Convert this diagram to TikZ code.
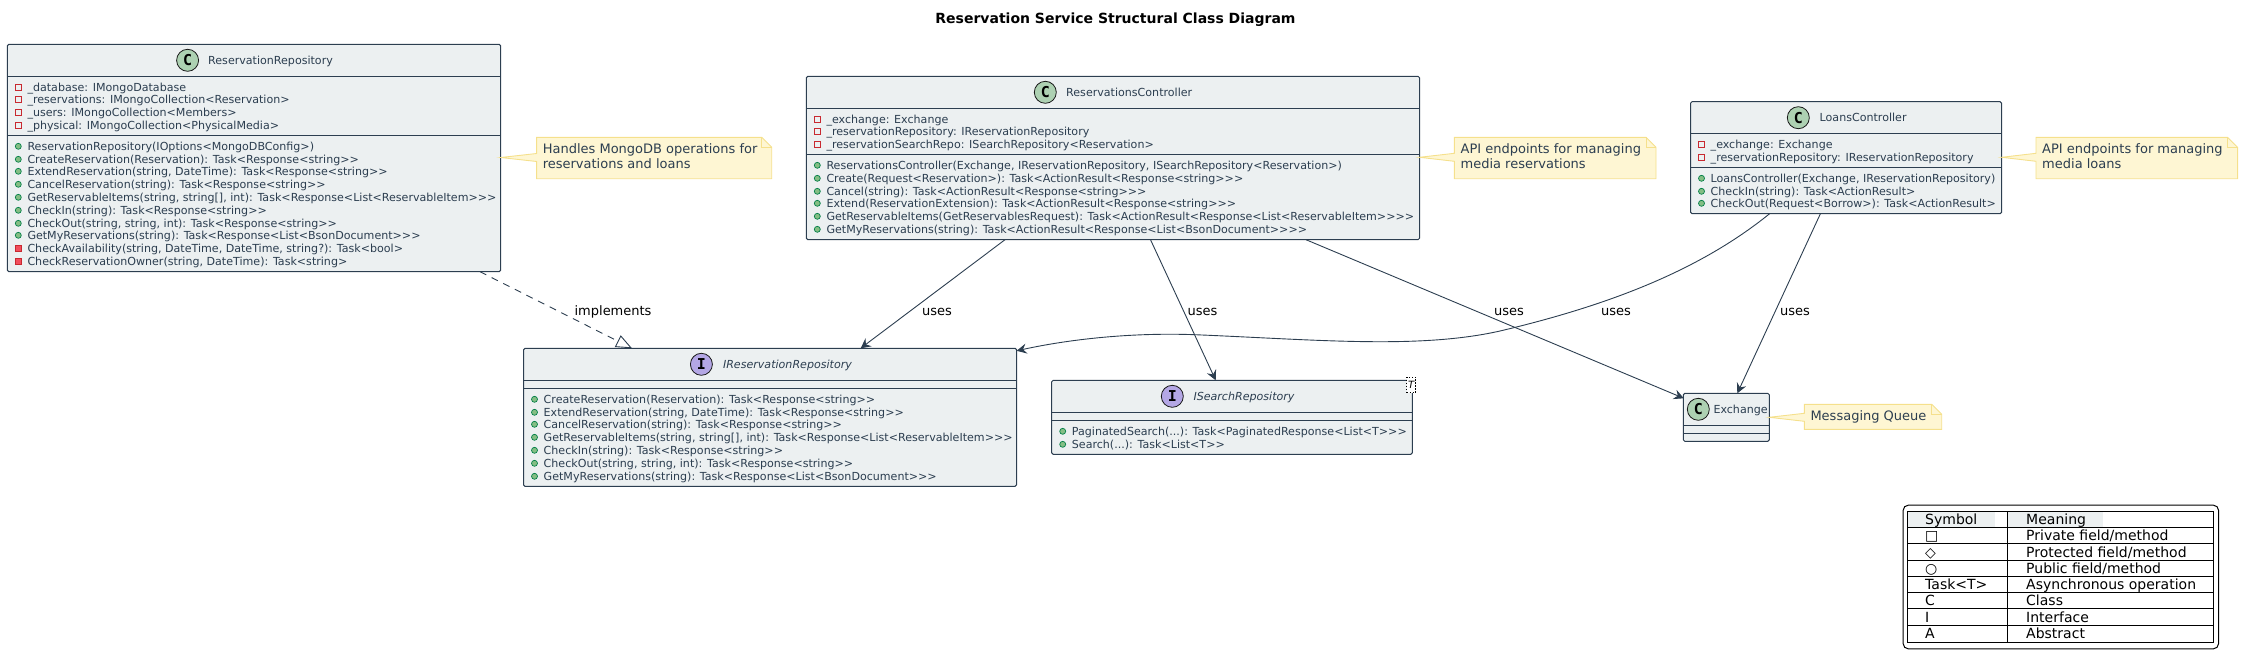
\documentclass[tikz,border=0pt]{standalone}
\usepackage{fontspec}
\setmainfont{DejaVu Sans}[Ligatures=TeXOff]
\newfontfamily\markfont{DejaVu Sans Mono}
\usetikzlibrary{arrows.meta}
\definecolor{inkcol}{HTML}{2C3E50}
\definecolor{boxcol}{HTML}{ECF0F1}
\definecolor{notecol}{HTML}{FEF6D3}
\definecolor{noteline}{HTML}{F5E08C}
\definecolor{classcol}{HTML}{ADD1B2}
\definecolor{ifacecol}{HTML}{B4A7E5}
\definecolor{privline}{HTML}{C82930}
\definecolor{privfill}{HTML}{F24D5C}
\definecolor{publine}{HTML}{038048}
\definecolor{pubfill}{HTML}{84BE84}
\tikzset{
  classbox/.style={draw=inkcol, fill=boxcol, line width=1pt, rounded corners=1.5pt, anchor=north west, inner sep=0pt, outer sep=0pt},
  classline/.style={draw=inkcol, line width=1pt},
  headmark/.style={circle, draw=black!90, line width=0.8pt, minimum size=22pt, inner sep=0pt, font=\markfont\bfseries\fontsize{15}{15}\selectfont},
  headtext/.style={anchor=base west, inner sep=0pt, text=inkcol, font=\fontsize{11.08}{12}\selectfont},
  membertext/.style={headtext},
  fieldmark/.style={rectangle, draw=privline, line width=0.9pt, minimum size=5.5pt, inner sep=0pt},
  privmark/.style={rectangle, draw=privline, fill=privfill, line width=0.6pt, minimum size=6pt, inner sep=0pt},
  publicmark/.style={circle, draw=publine, fill=pubfill, line width=0.7pt, minimum size=6pt, inner sep=0pt},
  notepath/.style={draw=noteline, fill=notecol, line width=0.9pt},
  notetext/.style={anchor=north west, inner sep=0pt, align=left, text=inkcol, font=\fontsize{13}{15}\selectfont},
  usesedge/.style={draw=inkcol, line width=0.9pt, -{Stealth[length=10pt,width=10pt,inset=3.5pt]}},
  edgetext/.style={anchor=base west, inner sep=0pt, font=\fontsize{13}{15}\selectfont},
  legendtext/.style={anchor=base west, inner sep=0pt, font=\fontsize{14}{15}\selectfont},
}
\newcommand{\elide}{...}
% prefix, left edge of the class, mark style, rows
\newcommand{\memberrows}[4]{
  \foreach \rowy/\rowtext [count=\rowi] in {#4} {
    \node[#3] (#1m\rowi) at (#2+11,\rowy) {};
    \node[membertext] (#1t\rowi) at (#2+20,\rowy+4) {\rowtext};
  }
}
% name, x1, y1, x2, y2, tip x, tip y, text
\newcommand{\notebox}[8]{
  \draw[notepath] (#2,#3) -- (#4-10,#3) -- (#4,#3+10) -- (#4,#5) -- (#2,#5)
    -- (#2,#7+4) -- (#6,#7) -- (#2,#7-4) -- cycle;
  \draw[notepath, fill=none] (#4-10,#3) -- (#4-10,#3+10) -- (#4,#3+10);
  \node[notetext] (#1) at (#2+6,#3+6) {#8};
}
\begin{document}
\begin{tikzpicture}[x=1pt,y=-1pt]
  \useasboundingbox (0,0) rectangle (2243,667);
  \node[anchor=base, inner sep=0pt, font=\bfseries\fontsize{14}{15}\selectfont] (title) at (1115.5,23) {Reservation Service Structural Class Diagram};

  % classes
  \node[classbox, minimum width=493.4pt, minimum height=227.4pt] (repo) at (7.3,44.3) {};
  \foreach \d in {32,91} \draw[classline] ([yshift=-\d]repo.north west) -- ([yshift=-\d]repo.north east);
  \node[headmark, fill=classcol] (repomark) at (187.6,60.3) {C};
  \node[headtext] (reponame) at (208,64.3) {ReservationRepository};
  \memberrows{repof}{7.3}{fieldmark}{87.3/\_database: IMongoDatabase, 99.3/\_reservations: IMongoCollection<Reservation>, 112.3/\_users: IMongoCollection<Members>, 125.3/\_physical: IMongoCollection<PhysicalMedia>}
  \memberrows{repop}{7.3}{publicmark}{146.3/ReservationRepository(IOptions<MongoDBConfig>), 159.3/CreateReservation(Reservation): Task<Response<string>>, 171.3/{ExtendReservation(string, DateTime): Task<Response<string>>}, 184.3/CancelReservation(string): Task<Response<string>>, 197.3/{GetReservableItems(string, string[], int): Task<Response<List<ReservableItem>>>}, 210.3/CheckIn(string): Task<Response<string>>, 223.3/{CheckOut(string, string, int): Task<Response<string>>}, 235.3/GetMyReservations(string): Task<Response<List<BsonDocument>>>}
  \memberrows{repox}{7.3}{privmark}{248.3/{CheckAvailability(string, DateTime, DateTime, string?): Task<bool>}, 261.3/{CheckReservationOwner(string, DateTime): Task<string>}}

  \node[classbox, minimum width=613.2pt, minimum height=163.4pt] (ctrl) at (806.3,76.3) {};
  \foreach \d in {32,78} \draw[classline] ([yshift=-\d]ctrl.north west) -- ([yshift=-\d]ctrl.north east);
  \node[headmark, fill=classcol] (ctrlmark) at (1045.3,92.3) {C};
  \node[headtext] (ctrlname) at (1066,96.3) {ReservationsController};
  \memberrows{ctrlf}{806.3}{fieldmark}{119.3/\_exchange: Exchange, 131.3/\_reservationRepository: IReservationRepository, 144.3/\_reservationSearchRepo: ISearchRepository<Reservation>}
  \memberrows{ctrlp}{806.3}{publicmark}{165.3/{ReservationsController(Exchange, IReservationRepository, ISearchRepository<Reservation>)}, 178.3/Create(Request<Reservation>): Task<ActionResult<Response<string>>>, 191.3/Cancel(string): Task<ActionResult<Response<string>>>, 203.3/Extend(ReservationExtension): Task<ActionResult<Response<string>>>, 216.3/GetReservableItems(GetReservablesRequest): Task<ActionResult<Response<List<ReservableItem>>>>, 229.3/GetMyReservations(string): Task<ActionResult<Response<List<BsonDocument>>>>}

  \node[classbox, minimum width=311.1pt, minimum height=112pt] (loans) at (1690.5,101.7) {};
  \foreach \d in {31.6,66} \draw[classline] ([yshift=-\d]loans.north west) -- ([yshift=-\d]loans.north east);
  \node[headmark, fill=classcol] (loansmark) at (1798.3,117.7) {C};
  \node[headtext] (loansname) at (1819.5,121.7) {LoansController};
  \memberrows{loansf}{1690.5}{fieldmark}{144.3/\_exchange: Exchange, 157.3/\_reservationRepository: IReservationRepository}
  \memberrows{loansp}{1690.5}{publicmark}{178.3/{LoansController(Exchange, IReservationRepository)}, 191.3/CheckIn(string): Task<ActionResult>, 203.3/CheckOut(Request<Borrow>): Task<ActionResult>}

  \node[classbox, minimum width=493.1pt, minimum height=138pt] (iface) at (523.5,348.3) {};
  \foreach \d in {32.4,40} \draw[classline] ([yshift=-\d]iface.north west) -- ([yshift=-\d]iface.north east);
  \node[headmark, fill=ifacecol] (ifacemark) at (701.4,364.3) {I};
  \node[headtext, font=\itshape\fontsize{11.08}{12}\selectfont] (ifacename) at (722.8,368.3) {IReservationRepository};
  \memberrows{ifacep}{523.5}{publicmark}{399.3/CreateReservation(Reservation): Task<Response<string>>, 412.3/{ExtendReservation(string, DateTime): Task<Response<string>>}, 424.3/CancelReservation(string): Task<Response<string>>, 437.3/{GetReservableItems(string, string[], int): Task<Response<List<ReservableItem>>>}, 450.3/CheckIn(string): Task<Response<string>>, 463.3/{CheckOut(string, string, int): Task<Response<string>>}, 476.3/GetMyReservations(string): Task<Response<List<BsonDocument>>>}

  \node[classbox, minimum width=360.6pt, minimum height=74pt] (search) at (1051.7,380.3) {};
  \foreach \d in {32,40} \draw[classline] ([yshift=-\d]search.north west) -- ([yshift=-\d]search.north east);
  \node[headmark, fill=ifacecol] (searchmark) at (1172.3,396.3) {I};
  \node[headtext, font=\itshape\fontsize{11.08}{12}\selectfont] (searchname) at (1193.3,400.3) {ISearchRepository};
  \memberrows{searchp}{1051.7}{publicmark}{431.3/PaginatedSearch(\elide): Task<PaginatedResponse<List<T>>>, 444.3/Search(\elide): Task<List<T>>}
  \node[draw=black, dashed, dash pattern=on 1.5pt off 1.5pt, fill=white, line width=0.7pt, inner sep=0pt, minimum width=9pt, minimum height=15.4pt, font=\itshape\fontsize{10}{12}\selectfont] (searchtag) at (1411.2,385) {T};

  \node[classbox, minimum width=86pt, minimum height=48pt] (exch) at (1683.3,393.3) {};
  \foreach \d in {32,40} \draw[classline] ([yshift=-\d]exch.north west) -- ([yshift=-\d]exch.north east);
  \node[headmark, fill=classcol] (exchmark) at (1698.3,409.3) {C};
  \node[headtext] (exchname) at (1713.3,413.3) {Exchange};

  % notes
  \notebox{repon}{536.6}{137.3}{771.7}{178.7}{500.7}{157.5}{Handles MongoDB operations for\\reservations and loans}
  \notebox{ctrln}{1454.4}{137.3}{1656}{178.7}{1419.5}{157.3}{API endpoints for managing\\media reservations}
  \notebox{loansn}{2036}{137.3}{2237.6}{178.7}{2001.6}{157.3}{API endpoints for managing\\media loans}
  \notebox{exchn}{1804.3}{404.3}{1941.7}{429.3}{1769.3}{417.3}{Messaging Queue}

  % relations
  \draw[draw=inkcol, line width=0.9pt, dash pattern=on 7pt off 6pt, -{Triangle[open, fill=white, length=16pt, width=13pt]}] ([xshift=472.7]repo.south west) -- ([xshift=108.5]iface.north west);
  \draw[usesedge] ([xshift=198.7]ctrl.south west) -- ([xshift=337.1]iface.north west);
  \draw[usesedge] ([xshift=344.2]ctrl.south west) -- ([xshift=164]search.north west);
  \draw[usesedge] ([xshift=499.7]ctrl.south west) -- ([xshift=0.5,yshift=-5]exch.north west);
  \draw[usesedge] ([xshift=79.1]loans.south west) .. controls (1700,270) and (1610,305) .. (1500,331)
    .. controls (1420,349) and (1320,340) .. (1202,335)
    .. controls (1140,332) and (1075,338) .. ([yshift=-2.5]iface.north east);
  \draw[usesedge] ([xshift=129.9]loans.south west) -- ([xshift=54]exch.north west);
  \node[edgetext] (implabel) at (574.4,315) {implements};
  \node[edgetext] (usesa) at (922,315) {uses};
  \node[edgetext] (usesb) at (1187.3,315) {uses};
  \node[edgetext] (usesc) at (1494,315) {uses};
  \node[edgetext] (usesd) at (1601,315) {uses};
  \node[edgetext] (usese) at (1780,315) {uses};

  % legend
  \node[draw=black, line width=1pt, rounded corners=5pt, minimum width=315.3pt, minimum height=143.6pt, anchor=north west, inner sep=0pt] (legend) at (1902.7,504.7) {};
  \node[fill=boxcol, minimum width=87pt, minimum height=15pt, anchor=north west, inner sep=0pt] (symhead) at (1907.8,511.8) {};
  \node[fill=boxcol, minimum width=95pt, minimum height=15pt, anchor=north west, inner sep=0pt] (meanhead) at (2007.5,511.8) {};
  \node[draw=black, line width=1pt, minimum width=306pt, minimum height=130.4pt, anchor=north west, inner sep=0pt] (legendtab) at (1907.3,511.3) {};
  \foreach \d in {16,32,49,65,81,97,114} \draw[draw=black, line width=1pt] ([yshift=-\d]legendtab.north west) -- ([yshift=-\d]legendtab.north east);
  \draw[draw=black, line width=1pt] ([xshift=99.7]legendtab.north west) -- ([xshift=99.7]legendtab.south west);
  \foreach \rowy/\symtext/\meantext [count=\rowi] in {524/Symbol/Meaning, 540/□/{Private field/method}, 557/◇/{Protected field/method}, 573/○/{Public field/method}, 589/Task<T>/Asynchronous operation, 605.5/C/Class, 622/I/Interface, 638/A/Abstract} {
    \node[legendtext] (sym\rowi) at (1925,\rowy) {\symtext};
    \node[legendtext] (mean\rowi) at (2026,\rowy) {\meantext};
  }
\end{tikzpicture}
\end{document}
